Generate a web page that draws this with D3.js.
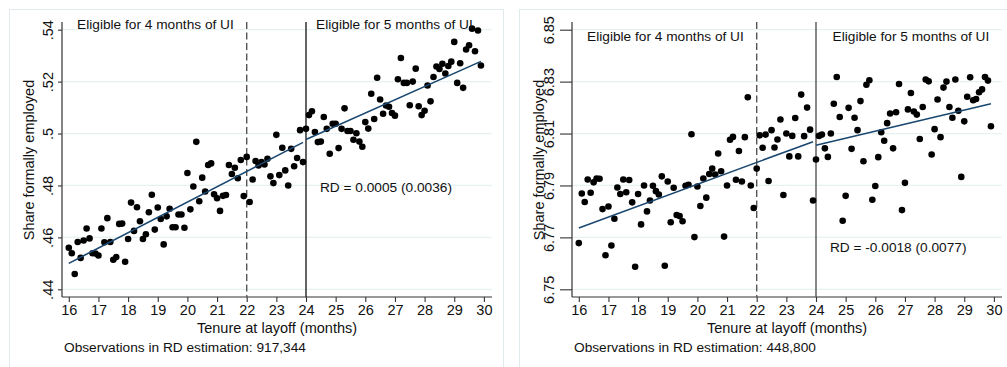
<!DOCTYPE html>
<html>
<head>
<meta charset="utf-8">
<script src="https://cdn.jsdelivr.net/npm/d3@7"></script>
<style>
  body { margin: 0; background: #fff; }
  svg { display: block; }
  text { font-family: "Liberation Sans", Arial, Helvetica, sans-serif; fill: #111; }
</style>
</head>
<body>
<svg id="chart" width="1007" height="367"></svg>
<script>
// Tenure bins (months) shared by both panels
const tenure = [
  16.0,16.1,16.2,16.3,16.4,16.5,16.6,16.7,16.8,16.9,17.0,17.1,17.2,17.3,17.4,17.5,17.6,17.7,17.8,17.9,
  18.0,18.1,18.2,18.3,18.4,18.5,18.6,18.7,18.8,18.9,19.0,19.1,19.2,19.3,19.4,19.5,19.6,19.7,19.8,19.9,
  20.0,20.1,20.2,20.3,20.4,20.5,20.6,20.7,20.8,20.9,21.0,21.1,21.2,21.3,21.4,21.5,21.6,21.7,21.8,21.9,
  22.0,22.1,22.2,22.3,22.4,22.5,22.6,22.7,22.8,22.9,23.0,23.1,23.2,23.3,23.4,23.5,23.6,23.7,23.8,23.9,
  24.0,24.1,24.2,24.3,24.4,24.5,24.6,24.7,24.8,24.9,25.0,25.1,25.2,25.3,25.4,25.5,25.6,25.7,25.8,25.9,
  26.0,26.1,26.2,26.3,26.4,26.5,26.6,26.7,26.8,26.9,27.0,27.1,27.2,27.3,27.4,27.5,27.6,27.7,27.8,27.9,
  28.0,28.1,28.2,28.3,28.4,28.5,28.6,28.7,28.8,28.9,29.0,29.1,29.2,29.3,29.4,29.5,29.6,29.7,29.8,29.9
];

// Panel 1: share formally employed, binned means
const employedA = [
  .4560,.4539,.4459,.4582,.4521,.4588,.4634,.4596,.4539,.4538,
  .4530,.4634,.4581,.4674,.4582,.4514,.4524,.4652,.4653,.4506,
  .4594,.4734,.4625,.4716,.4662,.4594,.4612,.4697,.4764,.4630,
  .4715,.4671,.4573,.4681,.4710,.4639,.4639,.4688,.4688,.4637,
  .4848,.4708,.4796,.4968,.4739,.4830,.4777,.4879,.4885,.4766,
  .4751,.4702,.4760,.4763,.4879,.4844,.4868,.4828,.4898,.4759,
  .4910,.4736,.4823,.4894,.4877,.4890,.4881,.4903,.4835,.4809,
  .4995,.4840,.4945,.4858,.4800,.4941,.4874,.4906,.5013,.4890,
  .5018,.5071,.5086,.5006,.4967,.4969,.5064,.5018,.4922,.5038,
  .5038,.4944,.5018,.5097,.5010,.5010,.4976,.5001,.4969,.4949,
  .5044,.5019,.5153,.5056,.5215,.5131,.5076,.5108,.5103,.5079,
  .5069,.5209,.5291,.5195,.5195,.5109,.5200,.5250,.5105,.5071,
  .5088,.5185,.5124,.5218,.5258,.5249,.5269,.5231,.5260,.5277,
  .5353,.5195,.5271,.5176,.5324,.5340,.5404,.5317,.5397,.5262
];

// Panel 2: binned means
const employedB = [
  6.7678,6.7869,6.7836,6.7923,6.7872,6.7912,6.7927,6.7926,6.7809,6.7631,
  6.7819,6.7669,6.7772,6.7892,6.7867,6.7923,6.7874,6.7921,6.7835,6.7587,
  6.7867,6.7750,6.7900,6.7800,6.7842,6.7899,6.7878,6.7865,6.7935,6.7591,
  6.7915,6.7758,6.7891,6.7786,6.7782,6.7762,6.7899,6.7903,6.8097,6.7701,
  6.7896,6.7821,6.7927,6.7853,6.7944,6.7965,6.7942,6.8023,6.7955,6.7703,
  6.7900,6.8076,6.8087,6.7922,6.8033,6.7915,6.8086,6.8240,6.7900,6.7813,
  6.7965,6.8093,6.8045,6.8096,6.7917,6.8113,6.8046,6.8077,6.8154,6.7863,
  6.8100,6.8012,6.8091,6.8160,6.8012,6.8250,6.8090,6.8200,6.8115,6.7842,
  6.8000,6.8091,6.8096,6.8043,6.8010,6.8100,6.8215,6.8318,6.8164,6.7764,
  6.7860,6.8199,6.8041,6.8161,6.8113,6.8225,6.7993,6.8288,6.8305,6.7845,
  6.7898,6.8009,6.8105,6.8072,6.8140,6.8177,6.8043,6.8182,6.8291,6.7805,
  6.7910,6.8193,6.8256,6.8185,6.8173,6.8079,6.8202,6.8308,6.8301,6.8019,
  6.8117,6.8231,6.8086,6.8277,6.8300,6.8202,6.8161,6.8308,6.8188,6.7933,
  6.8147,6.8242,6.8317,6.8228,6.8233,6.8259,6.8270,6.8318,6.8304,6.8128
];

const xTicks = [16,17,18,19,20,21,22,23,24,25,26,27,28,29,30];
const yTicksA = [.44,.46,.48,.50,.52,.54];
const yTickLabelsA = [".44",".46",".48",".5",".52",".54"];
const yTicksB = [6.75,6.77,6.79,6.81,6.83,6.85];
const yTickLabelsB = ["6.75","6.77","6.79","6.81","6.83","6.85"];

// Regression discontinuity: cutoff, placebo cutoff, linear fits on each side
const cutoff = 24;
const placeboCutoff = 22;
const fitStart = [16.0, 16.0];
const fitLeftEnd = [23.9, 23.9];
const fitRightEnd = [29.9, 29.9];
const leftFitAtStart = [.4500, 6.7736];
const leftFitAtCutoff = [.4972, 6.8073];
const rightFitAtEnd = [.5278, 6.8215];
const rdEstimate = [0.0005, -0.0018];
const rdStdError = [0.0036, 0.0077];
const observations = [917344, 448800];

const svg = d3.select("#chart");

const panelX = [0, 510];
const plot = { left: 62, right: 492, top: 22, bottom: 297 };

function drawPanel(p, values, yTicks, yTickLabels, yDomain, opts) {
  const g = svg.append("g").attr("transform", `translate(${panelX[p]},0)`);

  // outer frame of the graph region
  g.append("rect")
    .attr("x", 9.5).attr("y", 9.5)
    .attr("width", opts.frameW).attr("height", 420)
    .attr("fill", "none").attr("stroke", "#e1eaec").attr("stroke-width", 1);

  const x = d3.scaleLinear().domain([16, 30]).range([68.8, 483.9]);
  const y = d3.scaleLinear().domain(yDomain).range([289.3, 29.7]);

  // horizontal grid
  g.append("g").selectAll("line").data(yTicks).join("line")
    .attr("x1", plot.left).attr("x2", plot.right)
    .attr("y1", d => y(d)).attr("y2", d => y(d))
    .attr("stroke", "#e8f1f2").attr("stroke-width", 1.2);

  // y axis
  const yAxis = d3.axisLeft(y).tickValues(yTicks)
    .tickFormat((d, i) => yTickLabels[i]).tickSize(opts.yTickLen).tickSizeOuter(0);
  const ya = g.append("g").attr("transform", `translate(${plot.left},0)`).call(yAxis);
  ya.select(".domain").remove();
  ya.selectAll(".tick line").attr("stroke", "#333").attr("stroke-width", 1.1);
  ya.selectAll(".tick text")
    .attr("x", null).attr("dy", null)
    .attr("text-anchor", "middle")
    .attr("transform", `translate(${-opts.yLabelGap},0) rotate(-90)`)
    .attr("y", 0)
    .style("font-size", "14.5px")
    .attr("fill", "#111");
  g.append("line")
    .attr("x1", plot.left).attr("x2", plot.left)
    .attr("y1", plot.top).attr("y2", plot.bottom)
    .attr("stroke", "#333").attr("stroke-width", 1.2);

  // x axis
  const xAxis = d3.axisBottom(x).tickValues(xTicks).tickSize(5).tickSizeOuter(0);
  const xa = g.append("g").attr("transform", `translate(0,${plot.bottom})`).call(xAxis);
  xa.select(".domain").remove();
  xa.selectAll(".tick line").attr("stroke", "#333").attr("stroke-width", 1.1);
  xa.selectAll(".tick text").attr("y", 8).attr("dy", "0.71em")
    .style("font-size", "14.5px").attr("fill", "#111");
  g.append("line")
    .attr("x1", plot.left).attr("x2", plot.right)
    .attr("y1", plot.bottom).attr("y2", plot.bottom)
    .attr("stroke", "#333").attr("stroke-width", 1.2);

  // cutoff lines
  g.append("line")
    .attr("x1", x(placeboCutoff)).attr("x2", x(placeboCutoff))
    .attr("y1", plot.top).attr("y2", plot.bottom)
    .attr("stroke", "#555").attr("stroke-width", 1.4)
    .attr("stroke-dasharray", "7,3.5");
  g.append("line")
    .attr("x1", x(cutoff)).attr("x2", x(cutoff))
    .attr("y1", plot.top).attr("y2", plot.bottom)
    .attr("stroke", opts.cutColor).attr("stroke-width", 1.4);

  // scatter of binned means
  g.append("g").selectAll("circle").data(values).join("circle")
    .attr("cx", (d, i) => x(tenure[i]))
    .attr("cy", d => y(d))
    .attr("r", 3.3)
    .attr("fill", "#000");

  // linear fits on each side of the cutoff
  const slopeL = (leftFitAtCutoff[p] - leftFitAtStart[p]) / (cutoff - fitStart[p]);
  const rightAtCutoff = leftFitAtCutoff[p] + rdEstimate[p];
  const leftSeg = [
    [fitStart[p], leftFitAtStart[p]],
    [fitLeftEnd[p], leftFitAtStart[p] + slopeL * (fitLeftEnd[p] - fitStart[p])]
  ];
  const rightSeg = [[cutoff, rightAtCutoff], [fitRightEnd[p], rightFitAtEnd[p]]];
  const line = d3.line().x(d => x(d[0])).y(d => y(d[1]));
  [leftSeg, rightSeg].forEach(seg => {
    g.append("path").attr("d", line(seg))
      .attr("fill", "none").attr("stroke", "#1a476f").attr("stroke-width", 1.6);
  });

  // annotations
  const fmt4 = d3.format(".4f");
  g.append("text").attr("x", x(16.28)).attr("y", y(opts.eligY))
    .style("font-size", "13.7px").text("Eligible for 4 months of UI");
  g.append("text").attr("x", x(opts.elig5X)).attr("y", y(opts.eligY))
    .style("font-size", "13.7px").text("Eligible for 5 months of UI");
  g.append("text").attr("x", x(24.47)).attr("y", y(opts.rdY))
    .style("font-size", "13.7px")
    .text(`RD = ${fmt4(rdEstimate[p]).replace("−", "-")} (${fmt4(rdStdError[p])})`);

  // axis titles
  g.append("text")
    .attr("transform", `translate(${opts.titleX},${(plot.top + plot.bottom) / 2 + 0.5}) rotate(-90)`)
    .attr("text-anchor", "middle").attr("dy", "0.35em")
    .style("font-size", "14.5px").text("Share formally employed");
  g.append("text")
    .attr("x", (plot.left + plot.right) / 2).attr("y", 332.8)
    .attr("text-anchor", "middle")
    .style("font-size", "14.5px").text("Tenure at layoff (months)");
  g.append("text")
    .attr("x", 64).attr("y", 351.5)
    .style("font-size", "13.7px")
    .text(`Observations in RD estimation: ${d3.format(",")(observations[p])}`);
}

drawPanel(0, employedA, yTicksA, yTickLabelsA, [.44, .54],
  { frameW: 494, yTickLen: 4, yLabelGap: 9, titleX: 29, cutColor: "#222", eligY: .5402, elig5X: 24.34, rdY: .4775 });
drawPanel(1, employedB, yTicksB, yTickLabelsB, [6.75, 6.85],
  { frameW: 600, yTickLen: 12, yLabelGap: 18, titleX: 28.5, cutColor: "#555", eligY: 6.8458, elig5X: 24.56, rdY: 6.7642 });
</script>
</body>
</html>
